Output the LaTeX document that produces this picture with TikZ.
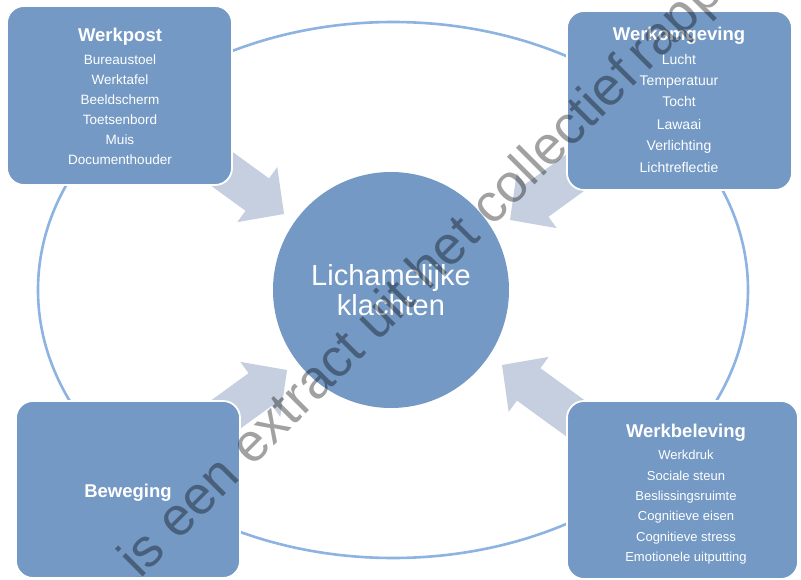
\documentclass[tikz,border=0pt]{standalone}
\usepackage{fontspec}
\setmainfont{Liberation Sans}
\definecolor{boxblue}{RGB}{115,153,196}
\definecolor{arrowgray}{RGB}{197,207,223}
\definecolor{ringblue}{RGB}{141,179,226}
\begin{document}
\begin{tikzpicture}[x=1pt,y=-1pt,
  panel/.style={draw=white,line width=1.8pt,fill=boxblue,rounded corners=17pt,minimum width=#1,inner sep=0pt},
  ttl/.style={anchor=base,text=white,font=\fontsize{18.5}{20}\selectfont\bfseries,inner sep=0pt},
  itm/.style={anchor=base,text=white,font=\fontsize{13.5}{15}\selectfont,inner sep=0pt},
  wmword/.style={anchor=base west,inner sep=0pt,text=black,text opacity=0.37,font=\fontsize{54}{56}\selectfont},
  blockarrow/.style={fill=arrowgray,draw=none}]
\useasboundingbox (0,0) rectangle (801,580);
\fill[white] (0,0) rectangle (801,580);
% ring
\draw[ringblue,line width=2.6pt] (393,290) ellipse [x radius=355, y radius=268];
% block arrows
\foreach \tx/\ty/\ang in {284/214/-36, 510/220/-144, 287/370/36, 502/365/144}{
  \begin{scope}[shift={(\tx,\ty)},rotate=\ang]
    \fill[blockarrow] (0,0) -- (-33,34) -- (-33,20) -- (-105,20) -- (-105,-20) -- (-33,-20) -- (-33,-34) -- cycle;
  \end{scope}}
% boxes
\draw[panel] (7,6) rectangle (232,185);
\draw[panel] (567,11) rectangle (792,190);
\draw[panel] (16,401) rectangle (240,578);
\draw[panel] (567,401) rectangle (798,579);
% center circle
\node[circle,fill=boxblue,minimum size=236pt,inner sep=0pt] (core) at (391,290) {};
\node[anchor=base,text=white,font=\fontsize{29}{30}\selectfont,inner sep=0pt] (l1) at (391,286) {Lichamelijke};
\node[anchor=base,text=white,font=\fontsize{29}{30}\selectfont,inner sep=0pt] (l2) at (391,316) {klachten};
% Werkpost
\node[ttl] (wpt) at (120,42) {Werkpost};
\node[itm] (wp1) at (120,65) {Bureaustoel};
\node[itm] (wp2) at (120,85) {Werktafel};
\node[itm] (wp3) at (120,105) {Beeldscherm};
\node[itm] (wp4) at (120,125) {Toetsenbord};
\node[itm] (wp5) at (120,145) {Muis};
\node[itm] (wp6) at (120,165) {Documenthouder};
% Werkomgeving
\node[ttl] (wot) at (679,41) {Werkomgeving};
\node[itm,font=\fontsize{14}{15}\selectfont] (wo1) at (679,65) {Lucht};
\node[itm,font=\fontsize{14}{15}\selectfont] (wo2) at (679,86) {Temperatuur};
\node[itm,font=\fontsize{14}{15}\selectfont] (wo3) at (679,107) {Tocht};
\node[itm,font=\fontsize{14}{15}\selectfont] (wo4) at (679,130) {Lawaai};
\node[itm,font=\fontsize{14}{15}\selectfont] (wo5) at (679,151) {Verlichting};
\node[itm,font=\fontsize{14}{15}\selectfont] (wo6) at (679,173) {Lichtreflectie};
% Beweging
\node[ttl] (bwt) at (128,497) {Beweging};
% Werkbeleving
\node[ttl] (wbt) at (686,437) {Werkbeleving};
\node[itm,font=\fontsize{13}{14}\selectfont] (wb1) at (686,459) {Werkdruk};
\node[itm,font=\fontsize{13}{14}\selectfont] (wb2) at (686,480) {Sociale steun};
\node[itm,font=\fontsize{13}{14}\selectfont] (wb3) at (686,500) {Beslissingsruimte};
\node[itm,font=\fontsize{13}{14}\selectfont] (wb4) at (686,520) {Cognitieve eisen};
\node[itm,font=\fontsize{13}{14}\selectfont] (wb5) at (686,541) {Cognitieve stress};
\node[itm,font=\fontsize{13}{14}\selectfont] (wb6) at (686,561) {Emotionele uitputting};
% watermark, word by word along one diagonal baseline
\begin{scope}
  \clip (0,0) rectangle (801,580);
  \begin{scope}[shift={(140,580)},rotate=45,transform shape]
    \node[wmword] (wm1) at (0,0) {is};
    \node[wmword] (wm2) at (54,0) {een};
    \node[wmword] (wm3) at (159,0) {extract};
    \node[wmword] (wm4) at (336,0) {uit};
    \node[wmword] (wm5) at (408,0) {het};
    \node[wmword] (wm6) at (498,0) {collectief};
    \node[wmword] (wm7) at (718,0) {rapport};
  \end{scope}
\end{scope}
\end{tikzpicture}
\end{document}
